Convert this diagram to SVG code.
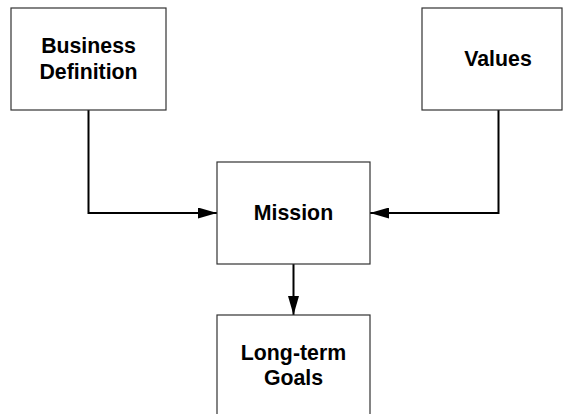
<svg xmlns="http://www.w3.org/2000/svg" width="563" height="414" viewBox="0 0 563 414">
<defs>
<style>
.box{fill:#fff;stroke:#333;stroke-width:1.2}
.lbl{font-family:"Liberation Sans",Arial,sans-serif;font-weight:bold;font-size:21.3px;fill:#000;text-anchor:middle}
.conn{fill:none;stroke:#000;stroke-width:2}
</style>
<marker id="arr" viewBox="0 0 19 11" refX="19" refY="5.5" markerWidth="19" markerHeight="11" markerUnits="userSpaceOnUse" orient="auto">
<path d="M0,0 L19,5.5 L0,11 Z" fill="#000"/>
</marker>
</defs>
<rect width="563" height="414" fill="#fff"/>
<g id="connectors">
<polyline class="conn" points="88.5,110 88.5,213 217,213" marker-end="url(#arr)"/>
<polyline class="conn" points="498.5,110 498.5,213 370,213" marker-end="url(#arr)"/>
<line class="conn" x1="293.5" y1="264" x2="293.5" y2="315" marker-end="url(#arr)"/>
</g>
<g id="business-definition">
<rect class="box" x="11" y="8" width="155" height="102"/>
<text class="lbl" x="88.5" y="53">Business</text>
<text class="lbl" x="88.5" y="79">Definition</text>
</g>
<g id="values">
<rect class="box" x="422" y="8" width="140" height="102"/>
<text class="lbl" x="498" y="66">Values</text>
</g>
<g id="mission">
<rect class="box" x="217" y="162" width="153" height="102"/>
<text class="lbl" x="293.5" y="220">Mission</text>
</g>
<g id="long-term-goals">
<rect class="box" x="217" y="315" width="153" height="102"/>
<text class="lbl" x="293.5" y="360">Long-term</text>
<text class="lbl" x="293.5" y="385">Goals</text>
</g>
</svg>
